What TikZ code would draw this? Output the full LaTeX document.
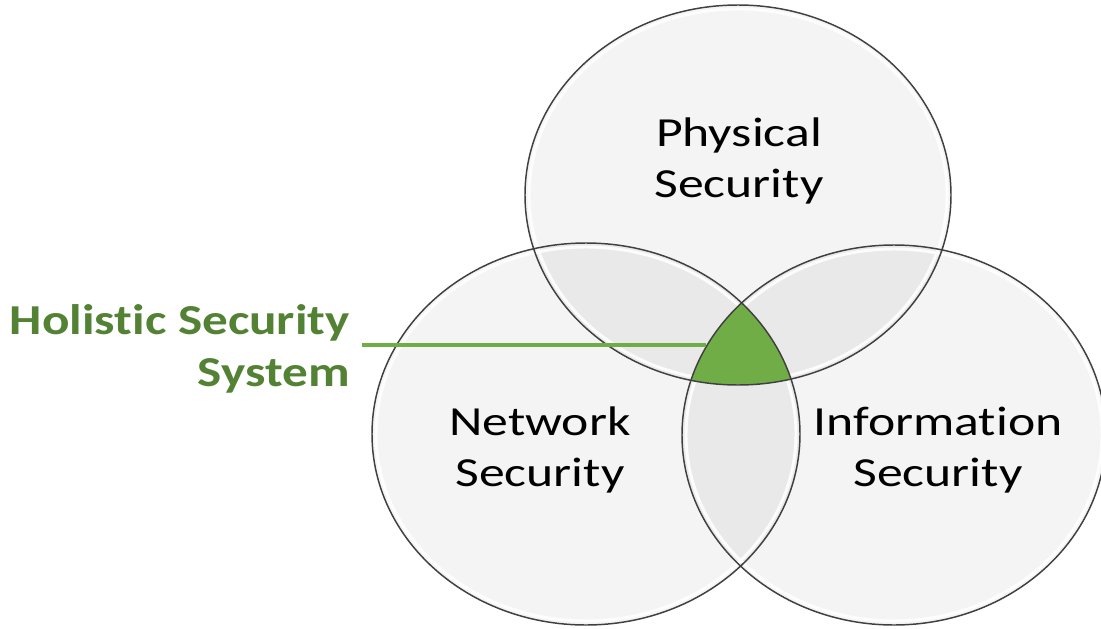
\documentclass[tikz,border=0pt]{standalone}
\usepackage{fontspec}
\setmainfont{Carlito}[FakeStretch=1.25,Ligatures=NoCommon]
\newfontfamily\holfont{Carlito}[FakeStretch=1.2,Ligatures=NoCommon]
\usepackage{xcolor}
\definecolor{holgreen}{RGB}{112,173,71}
\definecolor{holtext}{RGB}{84,130,53}
\tikzset{
  bubble/.style={fill=black,fill opacity=0.045},
  shine/.style={draw=white,line width=2.2,opacity=0.9},
  rim/.style={draw=black!75,line width=1.1},
  bubtext/.style={inner sep=0.75pt,align=center,font=\fontsize{31}{38.5}\selectfont},
}
\begin{document}
\begin{tikzpicture}[x=0.75pt,y=0.75pt,yscale=-1,xscale=1]
\useasboundingbox (0,0) rectangle (1101,629);

\coordinate (phys) at (738,195);
\coordinate (netw) at (586,434);
\coordinate (info) at (894,435);

\fill [bubble] (phys) ellipse [x radius=213,y radius=190];
\fill [bubble] (netw) ellipse [x radius=214,y radius=191];
\fill [bubble] (info) ellipse [x radius=212,y radius=190];
\draw [shine] (phys) ellipse [x radius=209,y radius=186];
\draw [shine] (netw) ellipse [x radius=210,y radius=187];
\draw [shine] (info) ellipse [x radius=208,y radius=186];

% core of the three sets
\begin{scope}
\clip (phys) ellipse [x radius=213,y radius=190];
\clip (netw) ellipse [x radius=214,y radius=191];
\fill [holgreen] (info) ellipse [x radius=212,y radius=190];
\end{scope}

\draw [rim] (phys) ellipse [x radius=213,y radius=190];
\draw [rim] (netw) ellipse [x radius=214,y radius=191];
\draw [rim] (info) ellipse [x radius=212,y radius=190];

\node (physlbl) [bubtext] at (739,161) {Physical\\Security};
\node (netwlbl) [bubtext] at (540,450) {Network\\Security};
\node (infolbl) [bubtext] at (938,450) {Information\\Security};

\node (holistic) [anchor=east,inner sep=9pt,align=right,text=holtext,font=\fontsize{32}{38.5}\holfont\bfseries] at (362,349) {Holistic Security\\System};
\coordinate (core) at (706,345);
\draw [holgreen,line width=3] (holistic.east |- core) -- (core);

\end{tikzpicture}
\end{document}
